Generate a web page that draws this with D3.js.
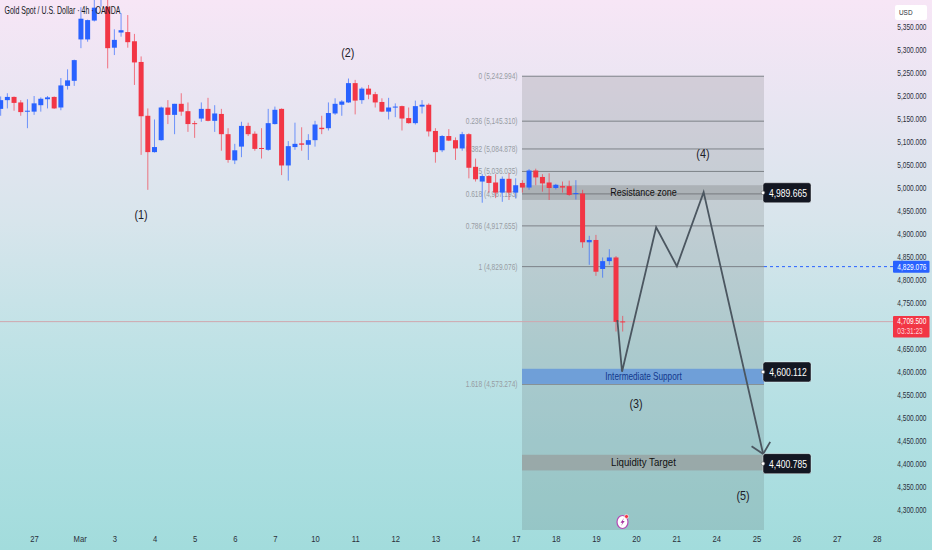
<!DOCTYPE html>
<html lang="en">
<head>
<meta charset="UTF-8">
<title>Gold Spot / U.S. Dollar 4h</title>
<script src="https://d3js.org/d3.v7.min.js"></script>
<style>
  html, body { margin: 0; padding: 0; background: #d8e4ec; overflow: hidden; }
  svg { display: block; }
  text { font-family: "Liberation Sans", Arial, sans-serif; }
  .price-axis text, .time-axis text { font-size: 9px; fill: #2a2e39; }
  .price-axis path, .time-axis path { display: none; }
</style>
</head>
<body>
<svg width="932" height="550"></svg>
<script>
// candles
const opens = [5172,5191,5198,5186,5167,5166,5180,5193,5198,5175,5222,5233,5323,5323,5364,5412,5394,5305,5338,5339,5319,5274,5157,5078,5104,5175,5159,5183,5167,5141,5151,5172,5146,5161,5117,5060,5090,5135,5118,5087,5083,5139,5172,5049,5089,5097,5094,5104,5131,5130,5162,5181,5186,5228,5191,5216,5204,5187,5166,5175,5178,5152,5141,5177,5181,5124,5082,5113,5104,5086,5117,5046,5014,5026,5012,4990,5020,4990,5011,5001,5038,5024,5012,5000,5004,5004,4987,4988,4882,4887,4824,4841,4849,4710];
const highs = [5199,5206,5199,5191,5193,5200,5197,5200,5199,5239,5258,5279,5393,5366,5409,5440,5412,5345,5380,5376,5335,5286,5173,5149,5177,5191,5183,5206,5186,5146,5186,5196,5180,5172,5130,5096,5144,5142,5123,5130,5172,5177,5173,5102,5142,5132,5117,5146,5157,5186,5195,5191,5238,5235,5219,5224,5209,5195,5196,5184,5179,5175,5190,5191,5184,5130,5115,5128,5110,5122,5119,5064,5030,5028,5030,5025,5032,5021,5017,5041,5042,5030,5032,5009,5014,5016,5017,4996,4896,4898,4849,4867,4852,4722];
const lows = [5157,5173,5168,5157,5130,5159,5166,5173,5172,5169,5214,5222,5304,5318,5362,5394,5260,5289,5329,5305,5224,5072,4996,5077,5103,5139,5117,5157,5122,5109,5144,5145,5122,5081,5055,5052,5067,5113,5081,5064,5081,5138,5028,5016,5083,5081,5061,5090,5117,5125,5159,5157,5185,5160,5183,5193,5175,5165,5149,5154,5125,5140,5138,5162,5112,5055,5078,5102,5061,5081,5021,5014,4968,4990,4978,4970,4974,4978,4990,4996,5006,4992,4974,4997,4990,4983,4975,4870,4833,4809,4805,4833,4688,4688];
const closes = [5191,5198,5185,5165,5168,5184,5194,5197,5173,5223,5234,5278,5368,5365,5392,5430,5304,5322,5343,5317,5273,5156,5078,5089,5175,5159,5183,5166,5139,5140,5172,5146,5162,5117,5061,5082,5135,5117,5085,5086,5141,5170,5049,5091,5096,5094,5104,5138,5128,5163,5183,5188,5228,5190,5216,5203,5186,5166,5175,5177,5151,5141,5178,5181,5123,5078,5113,5103,5086,5117,5044,5019,5026,5011,4990,5020,4990,5006,5001,5038,5023,5010,5000,5007,5001,4985,4989,4882,4887,4818,4841,4849,4709,4709.5];

// 4,700 sits behind the last price tag in the picture, so it has no label
const priceTicks = [4300,4350,4400,4450,4500,4550,4600,4650,4750,4800,4850,4900,4950,5000,5050,5100,5150,5200,5250,5300,5350];
const timeTickIndex = [5,11.8,17,23,29,35,41,47,53,59,65,71,77,83,89,95,101,107,113,119,125,131];
const timeTickLabels = ["27","Mar","3","4","5","6","7","10","11","12","13","14","17","18","19","20","21","24","25","26","27","28"];

const fibRatios = ["0","0.236","0.382","0.5","0.618","0.786","1","1.618"];
const fibPrices = [5242.994,5145.310,5084.878,5036.035,4987.193,4917.655,4829.076,4573.274];

const zoneNames = ["Resistance zone","Intermediate Support","Liquidity Target"];
const zoneTop = [5006,4607,4420];
const zoneBottom = [4974,4574,4386];

const targetPrices = [4989.665,4600.112,4400.785];

const waveIndex = [92.2,92.9,98,101.1,105.1,114];
const wavePrice = [4713,4600.6,4914.6,4830,4991,4421.7];

const waveLabels = ["(1)","(2)","(3)","(4)","(5)"];
const waveLabelIndex = [21,51.9,95,105,111];
const waveLabelPrice = [4941,5293,4530,5074,4330];

const lastPrice = 4709.5;
const fibOne = 4829.076;

const svg = d3.select("svg");
const W = 932, H = 550;

const x = d3.scaleLinear().domain([0, 93]).range([0.67, 622.7]);
const y = d3.scaleLinear().domain([4300, 5350]).range([510, 27]);

const fmt = d3.format(",.3f");
const BLUE = "#2962ff", RED = "#f23645";

const zoneStyle = d3.scaleOrdinal().domain(zoneNames)
  .range([
    { fill: "rgba(100,100,100,0.26)", text: "#111", size: 11, k: 0.82 },
    { fill: "#6f9fd8", text: "#12388c", size: 10, k: 0.82 },
    { fill: "rgba(150,150,150,0.62)", text: "#111", size: 11, k: 0.88 }
  ]);

// the source picture is squeezed sideways, so squeeze the text the same way
function squeeze(sel, k) {
  sel.each(function(d) {
    const x0 = +this.getAttribute("x") || 0;
    const s = typeof k === "function" ? k(d) : k;
    this.setAttribute("transform", "translate(" + x0 + ",0) scale(" + s + ",1) translate(" + (-x0) + ",0)");
  });
}

// background
const grad = svg.append("defs").append("linearGradient")
  .attr("id", "bg").attr("x1", 0).attr("y1", 0).attr("x2", 0).attr("y2", 1);
[["0%","#f7e6f6"],["18%","#e9e5f2"],["40%","#d8e5ec"],["62%","#c0e2e6"],["80%","#b0dfe2"],["100%","#a2dcdc"]]
  .forEach(s => grad.append("stop").attr("offset", s[0]).attr("stop-color", s[1]));
svg.append("rect").attr("width", W).attr("height", H).attr("fill", "url(#bg)");

// fib box
const boxL = 522, boxR = 764, boxBottom = 530;
svg.append("rect").attr("x", boxL).attr("y", y(fibPrices[0]))
  .attr("width", boxR - boxL).attr("height", boxBottom - y(fibPrices[0]))
  .attr("fill", "rgba(70,70,70,0.15)");

svg.append("g").selectAll("line").data(fibPrices).join("line")
  .attr("x1", boxL).attr("x2", boxR)
  .attr("y1", d => y(d)).attr("y2", d => y(d))
  .attr("stroke", "#7d8288").attr("stroke-width", 1);

svg.append("g").selectAll("text").data(fibPrices).join("text")
  .attr("x", 517.5).attr("y", d => y(d) + 3)
  .attr("text-anchor", "end").attr("font-size", 9).attr("fill", "#979ca3")
  .text((d, i) => fibRatios[i] + " (" + fmt(d) + ")")
  .call(squeeze, 0.73);

// zones
svg.append("g").selectAll("rect").data(zoneNames).join("rect")
  .attr("x", boxL).attr("width", boxR - boxL)
  .attr("y", (d, i) => y(zoneTop[i]))
  .attr("height", (d, i) => y(zoneBottom[i]) - y(zoneTop[i]))
  .attr("fill", d => zoneStyle(d).fill);

// last price line
svg.append("line").attr("x1", 0).attr("x2", 893)
  .attr("y1", y(lastPrice)).attr("y2", y(lastPrice))
  .attr("stroke", "#cfa6ae").attr("stroke-width", 1);

// candles
const idx = d3.range(opens.length);
const candle = svg.append("g").selectAll("g").data(idx).join("g");
candle.append("line")
  .attr("x1", i => x(i)).attr("x2", i => x(i))
  .attr("y1", i => y(highs[i])).attr("y2", i => y(lows[i]))
  .attr("stroke", i => closes[i] >= opens[i] ? BLUE : RED)
  .attr("stroke-opacity", 0.65).attr("stroke-width", 1);
candle.append("rect")
  .attr("x", i => x(i) - 2.5).attr("width", 5)
  .attr("y", i => y(Math.max(opens[i], closes[i])))
  .attr("height", i => Math.max(1, Math.abs(y(opens[i]) - y(closes[i]))))
  .attr("fill", i => closes[i] >= opens[i] ? BLUE : RED);

// zone names
svg.append("g").selectAll("text").data(zoneNames).join("text")
  .attr("x", 643.5)
  .attr("y", (d, i) => y((zoneTop[i] + zoneBottom[i]) / 2) + 3.5)
  .attr("text-anchor", "middle").attr("font-size", d => zoneStyle(d).size)
  .attr("fill", d => zoneStyle(d).text).text(d => d)
  .call(squeeze, d => zoneStyle(d).k);

// projected path
const waveLine = d3.line().x((d, i) => x(waveIndex[i])).y(d => y(d));
svg.append("path").attr("d", waveLine(wavePrice))
  .attr("fill", "none").attr("stroke", "#4b5660").attr("stroke-width", 1.8);
const tipX = x(waveIndex[5]), tipY = y(wavePrice[5]);
const ang = Math.atan2(tipY - y(wavePrice[4]), tipX - x(waveIndex[4]));
[-0.75, 0.75].forEach(a => {
  svg.append("line").attr("x1", tipX).attr("y1", tipY)
    .attr("x2", tipX - 14 * Math.cos(ang + a)).attr("y2", tipY - 14 * Math.sin(ang + a))
    .attr("stroke", "#4b5660").attr("stroke-width", 1.8);
});

// wave labels
svg.append("g").selectAll("text").data(waveLabels).join("text")
  .attr("x", (d, i) => x(waveLabelIndex[i]))
  .attr("y", (d, i) => y(waveLabelPrice[i]) + 4)
  .attr("text-anchor", "middle").attr("font-size", 12).attr("fill", "#1c2028")
  .text(d => d)
  .call(squeeze, 0.9);

// target labels
const target = svg.append("g").selectAll("g").data(targetPrices).join("g")
  .attr("transform", d => "translate(763," + y(d) + ")");
target.append("rect").attr("x", 0).attr("y", -10).attr("width", 48).attr("height", 20).attr("rx", 2.5)
  .attr("fill", "#131722").attr("stroke", "#fff").attr("stroke-opacity", 0.7).attr("stroke-width", 0.6);
target.append("circle").attr("r", 1.8).attr("fill", "#fff").attr("stroke", "#555").attr("stroke-width", 0.5);
target.append("text").attr("x", 25).attr("y", 4).attr("text-anchor", "middle")
  .attr("font-size", 11).attr("fill", "#fff").text(d => fmt(d))
  .call(squeeze, 0.78);

// axes
svg.append("g").attr("class", "price-axis").attr("transform", "translate(897,0)")
  .call(d3.axisRight(y).tickValues(priceTicks).tickSize(0).tickPadding(0).tickFormat(fmt))
  .selectAll("text").attr("x", 0.3).call(squeeze, 0.73);
svg.append("g").attr("class", "time-axis").attr("transform", "translate(0,532)")
  .call(d3.axisBottom(x).tickValues(timeTickIndex).tickSize(0).tickPadding(4)
    .tickFormat((d, i) => timeTickLabels[i]))
  .selectAll("text").call(squeeze, 0.85);

svg.append("rect").attr("x", 895).attr("y", 5).attr("width", 32).attr("height", 15).attr("rx", 2).attr("fill", "#fff");
svg.append("text").attr("x", 899).attr("y", 15).attr("font-size", 8).attr("fill", "#2a2e39").text("USD")
  .call(squeeze, 0.8);

// fib 1 marker
svg.append("line").attr("x1", boxR).attr("x2", 893)
  .attr("y1", y(fibOne)).attr("y2", y(fibOne))
  .attr("stroke", BLUE).attr("stroke-dasharray", "3,3").attr("stroke-width", 1);
svg.append("rect").attr("x", 893).attr("y", y(fibOne) - 6).attr("width", 36.5).attr("height", 12).attr("rx", 1).attr("fill", BLUE);
svg.append("text").attr("x", 897.3).attr("y", y(fibOne) + 3.2)
  .attr("font-size", 9).attr("fill", "#fff").text(fmt(fibOne))
  .call(squeeze, 0.73);

// last price tag
svg.append("rect").attr("x", 893).attr("y", 316).attr("width", 36.5).attr("height", 21.5).attr("rx", 1).attr("fill", RED);
svg.append("text").attr("x", 897.3).attr("y", 324).attr("font-size", 8.5).attr("fill", "#fff").text(fmt(lastPrice))
  .call(squeeze, 0.77);
svg.append("text").attr("x", 897.3).attr("y", 334.5).attr("font-size", 8.5).attr("fill", "#ffd3d8").text("03:31:23")
  .call(squeeze, 0.77);

// bolt icon
const icon = svg.append("g").attr("transform", "translate(622.5,522)");
icon.append("ellipse").attr("rx", 5.5).attr("ry", 6.5).attr("fill", "#fff").attr("stroke", "#b548b5").attr("stroke-width", 1.2);
icon.append("path").attr("d", "M1.5,-4 L-2,0.8 L0,0.8 L-1.5,4 L2.2,-1 L0.2,-1 Z").attr("fill", "#a5309f");
icon.append("circle").attr("cx", 4).attr("cy", -5.5).attr("r", 2).attr("fill", "#f23645").attr("stroke", "#fff").attr("stroke-width", 0.6);

// title
const title = svg.append("text").attr("x", 4.5).attr("y", 14.5).attr("font-size", 10).attr("fill", "#131722")
  .text("Gold Spot / U.S. Dollar · 4h · OANDA");
title.call(squeeze, 116 / title.node().getComputedTextLength());
</script>
</body>
</html>
